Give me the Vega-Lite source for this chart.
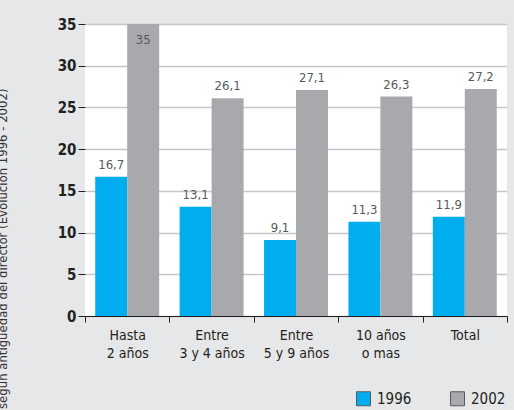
{
  "$schema": "https://vega.github.io/schema/vega-lite/v6.json",
  "width": 422,
  "height": 292,
  "autosize": {"type": "none"},
  "padding": {"left": 85, "top": 24, "right": 7, "bottom": 94},
  "background": "#e6e7e8",
  "config": {
    "locale": {"number": {"decimal": ",", "thousands": ".", "grouping": [3], "currency": ["", " €"]}},
    "view": {"fill": "#ffffff", "stroke": null},
    "font": "DejaVu Sans Condensed, sans-serif"
  },
  "data": {
    "values": [
      {"grupo": "Hasta\n2 años", "anio": "1996", "valor": 16.7},
      {"grupo": "Hasta\n2 años", "anio": "2002", "valor": 35},
      {"grupo": "Entre\n3 y 4 años", "anio": "1996", "valor": 13.1},
      {"grupo": "Entre\n3 y 4 años", "anio": "2002", "valor": 26.1},
      {"grupo": "Entre\n5 y 9 años", "anio": "1996", "valor": 9.1},
      {"grupo": "Entre\n5 y 9 años", "anio": "2002", "valor": 27.1},
      {"grupo": "10 años\no mas", "anio": "1996", "valor": 11.3},
      {"grupo": "10 años\no mas", "anio": "2002", "valor": 26.3},
      {"grupo": "Total", "anio": "1996", "valor": 11.9},
      {"grupo": "Total", "anio": "2002", "valor": 27.2}
    ]
  },
  "encoding": {
    "x": {
      "field": "grupo",
      "type": "nominal",
      "sort": null,
      "scale": {"paddingInner": 0, "paddingOuter": 0},
      "axis": {
        "title": null,
        "labelAngle": 0,
        "labelExpr": "split(datum.label, '\\n')",
        "labelFont": "DejaVu Sans Condensed, sans-serif",
        "labelFontSize": 14,
        "labelColor": "#231f20",
        "labelLineHeight": 18,
        "labelBaseline": "top",
        "labelPadding": 6,
        "domainColor": "#231f20",
        "domainWidth": 1,
        "tickBand": "extent",
        "tickColor": "#231f20",
        "tickSize": 6,
        "tickWidth": 1
      }
    },
    "xOffset": {
      "field": "anio",
      "type": "nominal",
      "scale": {"paddingInner": 0, "paddingOuter": 0.32}
    },
    "y": {
      "field": "valor",
      "type": "quantitative",
      "scale": {"domain": [0, 35], "nice": false},
      "axis": {
        "title": "Porcentaje de escuelas según antigüedad del director (Evolución 1996 - 2002)",
        "titleFont": "DejaVu Sans Condensed, sans-serif",
        "titleFontSize": 13,
        "titleFontWeight": "normal",
        "titleColor": "#333333",
        "titleAngle": 270,
        "titleAlign": "right",
        "titleBaseline": "alphabetic",
        "titleX": -79,
        "titleY": 64,
        "values": [0, 5, 10, 15, 20, 25, 30, 35],
        "domain": false,
        "labelFont": "DejaVu Sans Condensed, sans-serif",
        "labelFontWeight": "bold",
        "labelFontSize": 15,
        "labelColor": "#231f20",
        "labelPadding": 2,
        "tickColor": "#231f20",
        "tickSize": 7,
        "tickWidth": 1,
        "grid": true,
        "gridColor": "#c6c7c9",
        "gridWidth": 1.5
      }
    }
  },
  "layer": [
    {
      "mark": {"type": "bar"},
      "encoding": {
        "color": {
          "field": "anio",
          "type": "nominal",
          "scale": {"range": ["#00aeef", "#a7a9ac"]},
          "legend": {
            "title": null,
            "orient": "none",
            "direction": "horizontal",
            "legendX": 271,
            "legendY": 367,
            "padding": 0,
            "symbolType": "square",
            "symbolSize": 196,
            "symbolStrokeColor": "#58595b",
            "symbolStrokeWidth": 1,
            "symbolOpacity": 1,
            "labelFont": "DejaVu Sans Condensed, sans-serif",
            "labelFontSize": 15,
            "labelColor": "#231f20",
            "labelOffset": 6,
            "columnPadding": 36
          }
        }
      }
    },
    {
      "transform": [{"filter": "datum.valor < 34"}],
      "mark": {"type": "text", "baseline": "alphabetic", "dy": -8, "fontSize": 13, "color": "#58595b"},
      "encoding": {
        "text": {"field": "valor", "type": "quantitative", "format": ".1~f"}
      }
    },
    {
      "transform": [{"filter": "datum.valor >= 34"}],
      "mark": {"type": "text", "baseline": "top", "dy": 10, "fontSize": 13, "color": "#58595b"},
      "encoding": {
        "text": {"field": "valor", "type": "quantitative", "format": ".1~f"}
      }
    }
  ]
}
